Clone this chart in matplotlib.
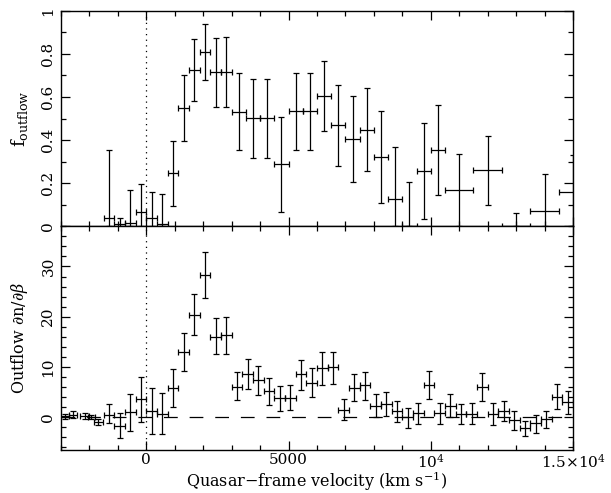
import numpy as np
import matplotlib
matplotlib.use("Agg")
import matplotlib.pyplot as plt
from matplotlib.ticker import MultipleLocator, FuncFormatter

plt.rcParams['font.family'] = ['DejaVu Serif']
plt.rcParams['mathtext.fontset'] = 'dejavuserif'

# top panel: outflow fraction per velocity bin
f_vel = [-1312.5, -937.5, -562.5, -187.5, 187.5, 562.5, 937.5, 1312.5, 1687.5,
         2062.5, 2437.5, 2812.5, 3250, 3750, 4250, 4750, 5250, 5750, 6250,
         6750, 7250, 7750, 8250, 8750, 9250, 9750, 10250, 11000, 12000,
         13000, 14000, 15000]
f_halfwidth = [187.5] * 12 + [250] * 15 + [500] * 5
f_val = [0.037, 0.01, 0.014, 0.065, 0.037, 0.009, 0.246, 0.549, 0.725, 0.807,
         0.717, 0.717, 0.532, 0.501, 0.501, 0.288, 0.533, 0.533, 0.606, 0.468,
         0.405, 0.447, 0.323, 0.127, 0.0, 0.255, 0.353, 0.17, 0.259, 0.0,
         0.07, 0.159]
f_lo = [0, 0, 0, 0, 0, 0, 0.093, 0.394, 0.583, 0.677, 0.553, 0.555, 0.354,
        0.318, 0.318, 0.068, 0.354, 0.354, 0.444, 0.28, 0.204, 0.255, 0.11,
        0, 0, 0.032, 0.144, 0, 0.1, 0, 0, 0]
f_hi = [0.354, 0.04, 0.167, 0.196, 0.161, 0.148, 0.397, 0.703, 0.869, 0.937,
        0.875, 0.877, 0.71, 0.683, 0.683, 0.506, 0.71, 0.71, 0.768, 0.657,
        0.605, 0.64, 0.537, 0.37, 0.207, 0.481, 0.563, 0.337, 0.417, 0.06,
        0.244, 0.33]

# bottom panel: outflow dn/dbeta
n_vel = [-2870, -2580, -2170, -1930, -1690, -1312.5, -937.5, -562.5, -187.5,
         187.5, 562.5, 937.5, 1312.5, 1687.5, 2062.5, 2437.5, 2812.5, 3187.5,
         3562.5, 3937.5, 4312.5, 4687.5, 5062.5, 5437.5, 5812.5, 6187.5,
         6562.5, 6937.5, 7312.5, 7687.5, 8062.5, 8437.5, 8812.5, 9187.5,
         9562.5, 9937.5, 10312.5, 10687.5, 11062.5, 11437.5, 11812.5,
         12187.5, 12562.5, 12937.5, 13312.5, 13687.5, 14062.5, 14437.5,
         14812.5]
n_halfwidth = [150, 130, 150, 130, 150] + [187.5] * 44
n_val = [0.2, 0.5, 0.3, 0.0, -1.0, 0.4, -1.7, 1.0, 3.6, 1.3, 0.7, 5.9, 12.9,
         20.3, 28.3, 16.0, 16.3, 6.1, 8.6, 7.3, 5.2, 3.8, 3.9, 8.5, 6.9, 9.7,
         9.9, 1.5, 5.8, 6.4, 2.3, 2.7, 1.2, 0.0, 0.8, 6.4, 0.8, 2.3, 0.7, 0.7,
         6.0, 0.7, 1.3, -0.5, -2.2, -1.2, -0.4, 4.1, 3.0]
n_lo = [-0.3, -0.2, -0.3, -0.4, -1.6, -1.1, -4.2, -2.7, -1.0, -3.3, -3.3,
        2.0, 9.1, 16.3, 23.7, 12.5, 12.6, 3.4, 5.6, 4.4, 2.5, 1.3, 1.5, 5.5,
        4.1, 6.5, 6.7, -0.6, 3.2, 3.5, 0.0, 0.3, -0.9, -2.1, -1.3, 3.7, -1.3,
        0.1, -1.3, -1.4, 3.3, -1.5, -0.7, -2.5, -3.7, -3.1, -2.2, 1.6, 0.6]
n_hi = [0.7, 1.2, 0.9, 0.4, -0.4, 2.6, 0.8, 4.7, 8.0, 5.8, 4.8, 9.6, 16.7,
        24.5, 32.9, 19.7, 19.9, 8.9, 11.6, 10.2, 7.7, 6.3, 6.5, 11.4, 9.7,
        12.9, 13.0, 3.7, 8.5, 9.0, 4.6, 5.1, 3.2, 1.9, 2.8, 9.1, 2.8, 4.6,
        2.7, 2.8, 8.7, 2.8, 3.3, 1.3, -0.7, 0.5, 1.3, 6.6, 5.3]

fig = plt.figure(figsize=(6.11, 4.93), dpi=100)
ax1 = fig.add_axes([0.0998, 0.541, 0.838, 0.437])
ax2 = fig.add_axes([0.0998, 0.0876, 0.838, 0.4534])


def asym(val, lo, hi):
    val = np.array(val)
    return [val - np.array(lo), np.array(hi) - val]


eb = dict(fmt='none', ecolor='black', elinewidth=0.9, capsize=2.2, capthick=0.9)
ax1.errorbar(f_vel, f_val, xerr=f_halfwidth, yerr=asym(f_val, f_lo, f_hi), **eb)
ax2.errorbar(n_vel, n_val, xerr=n_halfwidth, yerr=asym(n_val, n_lo, n_hi), **eb)

for ax in (ax1, ax2):
    ax.axvline(0, color='black', lw=0.9, ls=(0, (1, 3.5)))
    ax.set_xlim(-3000, 15000)
    ax.xaxis.set_major_locator(MultipleLocator(5000))
    ax.xaxis.set_minor_locator(MultipleLocator(1000))
    ax.tick_params(which='both', direction='in', top=True, right=True, width=0.9,
                   labelsize=11)
    ax.tick_params(which='major', length=6.5)
    ax.tick_params(which='minor', length=3.5)
    ax.tick_params(axis='y', labelrotation=90, pad=4)
    ax.tick_params(axis='x', pad=2)
    for sp in ax.spines.values():
        sp.set_linewidth(1.0)
    for lab in ax.get_yticklabels():
        lab.set_va('center')

ax2.axhline(0, color='black', lw=0.9, dashes=(11, 9.5))

ax1.set_ylim(0, 1)
ax1.yaxis.set_major_locator(MultipleLocator(0.2))
ax1.yaxis.set_minor_locator(MultipleLocator(0.1))
ax1.yaxis.set_major_formatter(FuncFormatter(lambda v, p: '0' if abs(v) < 1e-9 else ('1' if abs(v - 1) < 1e-9 else f'{v:.1f}')))
ax1.tick_params(axis='x', labelbottom=False)

ax2.set_ylim(-6.5, 38)
ax2.yaxis.set_major_locator(MultipleLocator(10))
ax2.yaxis.set_minor_locator(MultipleLocator(2))
ax2.xaxis.set_major_formatter(FuncFormatter(
    lambda v, p: {0: '0', 5000: '5000', 10000: r'$10^4$',
                  15000: r'$1.5{\times}10^4$'}.get(int(round(v)), '')))

ax1.set_ylabel(r'$\mathrm{f_{outflow}}$', fontsize=13, labelpad=8)
ax2.set_ylabel(r'Outflow $\partial$n/$\partial\beta$', fontsize=11.5, labelpad=8)
ax2.set_xlabel(r'Quasar$-$frame velocity (km s$^{-1}$)', fontsize=11.5, labelpad=-0.5)

fig.savefig('out.png', dpi=100)
